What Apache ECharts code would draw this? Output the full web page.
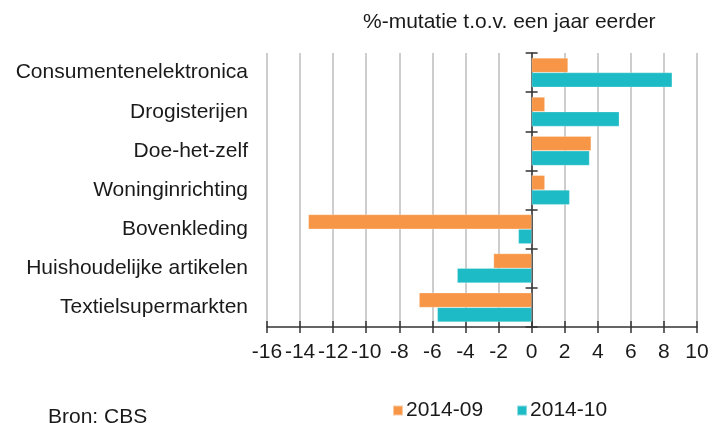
<!DOCTYPE html>
<html>
<head>
<meta charset="utf-8">
<script src="https://cdn.jsdelivr.net/npm/echarts@6/dist/echarts.min.js"></script>
<style>
  html, body { margin: 0; padding: 0; background: #fff; }
  #chart { width: 712px; height: 423px; }
</style>
</head>
<body>
<div id="chart"></div>
<script>
// branches, top to bottom
const categories = [
  'Consumentenelektronica',
  'Drogisterijen',
  'Doe-het-zelf',
  'Woninginrichting',
  'Bovenkleding',
  'Huishoudelijke artikelen',
  'Textielsupermarkten',
];
const seriesNames = ['2014-09', '2014-10'];
const valuesSep = [2.2, 0.8, 3.6, 0.8, -13.5, -2.3, -6.8];
const valuesOct = [8.5, 5.3, 3.5, 2.3, -0.8, -4.5, -5.7];
const xMin = -16;
const xMax = 10;
const xStep = 2;

const font = '"Liberation Sans", Arial, sans-serif';
const textColor = '#1a1a1a';
const axisColor = '#333';

const chart = echarts.init(document.getElementById('chart'), null, { renderer: 'canvas' });

const option = {
  animation: false,
  textStyle: { fontFamily: font },
  grid: { left: 267, right: 15, top: 53, bottom: 96, containLabel: false },
  graphic: [
    {
      type: 'text',
      left: 363,
      top: 12,
      style: { text: '%-mutatie t.o.v. een jaar eerder', font: '21px ' + font, fill: textColor },
    },
    {
      type: 'text',
      left: 48,
      top: 407,
      style: { text: 'Bron: CBS', font: '21px ' + font, fill: textColor },
    },
  ],
  legend: {
    data: seriesNames,
    left: 392,
    top: 400,
    padding: 0,
    icon: 'rect',
    itemWidth: 10,
    itemHeight: 10,
    itemGap: 33,
    textStyle: { fontSize: 21, color: textColor, fontFamily: font, padding: [0, 0, 0, -2] },
  },
  xAxis: [
    {
      type: 'value',
      min: xMin,
      max: xMax,
      interval: xStep,
      position: 'bottom',
      axisLine: { show: true, onZero: false, lineStyle: { color: axisColor, width: 1.5 } },
      axisTick: { show: true, length: 6, lineStyle: { color: axisColor, width: 1.5 } },
      axisLabel: { fontSize: 21, color: textColor, margin: 15, fontFamily: font },
      splitLine: { show: true, lineStyle: { color: '#bdbdbd', width: 1.5 } },
    },
    {
      type: 'value',
      min: xMin,
      max: xMax,
      interval: xStep,
      position: 'bottom',
      axisLine: { show: false },
      axisTick: { show: true, inside: true, length: 6, lineStyle: { color: axisColor, width: 1.5 } },
      axisLabel: { show: false },
      splitLine: { show: false },
    },
  ],
  yAxis: [
    {
      type: 'category',
      data: categories,
      inverse: true,
      position: 'left',
      axisLine: { show: false, onZero: false },
      axisTick: { show: false },
      axisLabel: { fontSize: 21, color: textColor, margin: 19, fontFamily: font },
    },
    {
      type: 'category',
      data: categories,
      inverse: true,
      position: 'left',
      axisLine: { show: true, onZero: true, onZeroAxisIndex: 0, lineStyle: { color: axisColor, width: 1.5 } },
      axisTick: { show: true, length: 6, lineStyle: { color: axisColor, width: 1.5 } },
      axisLabel: { show: false },
    },
    {
      type: 'category',
      data: categories,
      inverse: true,
      position: 'left',
      axisLine: { show: false, onZero: true, onZeroAxisIndex: 0 },
      axisTick: { show: true, inside: true, length: 6, lineStyle: { color: axisColor, width: 1.5 } },
      axisLabel: { show: false },
    },
  ],
  series: [
    {
      name: seriesNames[0],
      type: 'bar',
      data: valuesSep,
      xAxisIndex: 0,
      yAxisIndex: 0,
      barGap: 0,
      barCategoryGap: '25%',
      itemStyle: { color: '#F79646', borderColor: 'rgba(255,255,255,0.5)', borderWidth: 0.5 },
      z: 1,
    },
    {
      name: seriesNames[1],
      type: 'bar',
      data: valuesOct,
      xAxisIndex: 0,
      yAxisIndex: 0,
      barGap: 0,
      barCategoryGap: '25%',
      itemStyle: { color: '#1DBBC5', borderColor: 'rgba(255,255,255,0.5)', borderWidth: 0.5 },
      z: 1,
    },
  ],
};

chart.setOption(option);
window.addEventListener('resize', () => {
  chart.resize();
});
</script>
</body>
</html>
